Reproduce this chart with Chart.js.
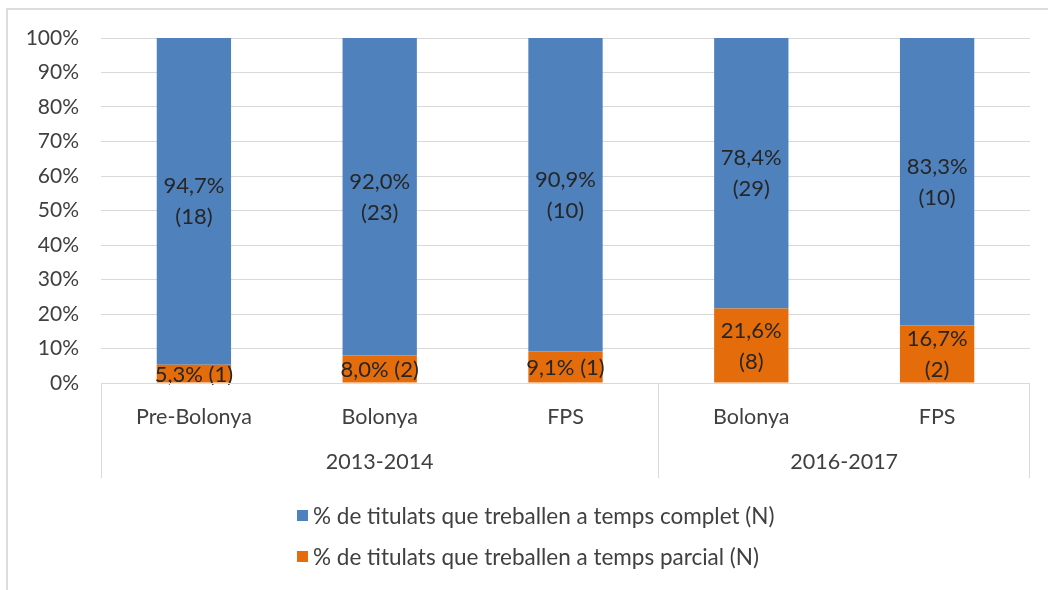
<!DOCTYPE html>
<html>
<head>
<meta charset="utf-8">
<script src="https://cdn.jsdelivr.net/npm/chart.js@4"></script>
<style>
  body { margin:0; background:#fff; }
  #wrap { position:relative; width:1048px; height:590px; }
  .llegenda { position:absolute; left:297px; top:0; font-family:Lato, sans-serif; font-size:22.5px; color:#404040; }
  .llegenda .fila { position:absolute; left:0; white-space:nowrap; display:flex; align-items:center; height:26px; }
  .llegenda .quadre { width:11px; height:11px; margin-right:5px; display:inline-block; }
</style>
</head>
<body>
<div id="wrap">
  <canvas id="grafic" width="1048" height="590"></canvas>
  <div class="llegenda" id="llegenda"></div>
</div>
<script>
const categories = ['Pre-Bolonya', 'Bolonya', 'FPS', 'Bolonya', 'FPS'];
const cursos     = ['2013-2014', '2013-2014', '2013-2014', '2016-2017', '2016-2017'];

const completPct = [94.7, 92.0, 90.9, 78.4, 83.3];
const completN   = [18, 23, 10, 29, 10];
const parcialPct = [5.3, 8.0, 9.1, 21.6, 16.7];
const parcialN   = [1, 2, 1, 8, 2];

// ordre de la llegenda; el parcial va a baix de la pila
const series = [
  {nom:'% de titulats que treballen a temps complet (N)', pct:completPct, n:completN, color:'#4F81BD', ordre:2},
  {nom:'% de titulats que treballen a temps parcial (N)', pct:parcialPct, n:parcialN, color:'#E46C0A', ordre:1},
];

const FONT = 'Lato, sans-serif';
const TXT = '#404040';
const GRID = '#d9d9d9';

const fmt = v => v.toFixed(1).replace('.', ',') + '%';

// etiquetes dins les barres
const etiquetes = {
  id: 'etiquetes',
  afterDatasetsDraw(chart) {
    const ctx = chart.ctx;
    ctx.save();
    ctx.font = '22px ' + FONT;
    ctx.fillStyle = '#262626';
    ctx.textAlign = 'center';
    ctx.textBaseline = 'middle';
    chart.data.datasets.forEach((ds, di) => {
      const meta = chart.getDatasetMeta(di);
      meta.data.forEach((bar, i) => {
        const c = bar.getCenterPoint();
        const h = Math.abs(bar.base - bar.y);
        const a = fmt(series[di].pct[i]), b = '(' + series[di].n[i] + ')';
        if (h > 50) {
          ctx.fillText(a, c.x, c.y - 15);
          ctx.fillText(b, c.x, c.y + 16);
        } else {
          ctx.fillText(a + ' ' + b, c.x, c.y + 1);
        }
      });
    });
    ctx.restore();
  }
};

// eix de categories en dos nivells + vora del gràfic
const eixGrups = {
  id: 'eixGrups',
  beforeDraw(chart) {
    const ctx = chart.ctx;
    ctx.save();
    ctx.strokeStyle = '#dcdcdc';
    ctx.lineWidth = 2;
    ctx.beginPath();
    ctx.moveTo(7, 590); ctx.lineTo(7, 9); ctx.lineTo(1048, 9);
    ctx.stroke();
    ctx.restore();
  },
  afterDraw(chart) {
    const ctx = chart.ctx, x = chart.scales.x, area = chart.chartArea;
    const baix = area.bottom + 95;
    const amplada = x.getPixelForValue(1) - x.getPixelForValue(0);
    ctx.save();
    ctx.strokeStyle = GRID;
    ctx.lineWidth = 1;
    ctx.beginPath();
    ctx.moveTo(area.left, area.bottom + 0.5); ctx.lineTo(area.right, area.bottom + 0.5);
    ctx.moveTo(area.left + 0.5, area.bottom); ctx.lineTo(area.left + 0.5, baix);
    ctx.moveTo(area.right - 0.5, area.bottom); ctx.lineTo(area.right - 0.5, baix);
    let inici = 0;
    for (let i = 1; i <= cursos.length; i++) {
      if (i === cursos.length || cursos[i] !== cursos[inici]) {
        const x0 = x.getPixelForValue(inici) - amplada / 2;
        const x1 = x.getPixelForValue(i - 1) + amplada / 2;
        if (i < cursos.length) {
          ctx.moveTo(Math.round(x1) + 0.5, area.bottom); ctx.lineTo(Math.round(x1) + 0.5, baix);
        }
        ctx.fillStyle = TXT;
        ctx.font = '21.5px ' + FONT;
        ctx.textAlign = 'center';
        ctx.textBaseline = 'middle';
        ctx.fillText(cursos[inici], (x0 + x1) / 2, area.bottom + 79);
        inici = i;
      }
    }
    ctx.stroke();
    ctx.restore();
  }
};

new Chart(document.getElementById('grafic'), {
  type: 'bar',
  data: {
    labels: categories,
    datasets: series.map(s => ({
      label: s.nom,
      data: s.pct,
      backgroundColor: s.color,
      order: s.ordre,
      barPercentage: 0.4,
      categoryPercentage: 1,
    }))
  },
  options: {
    responsive: false,
    animation: false,
    events: [],
    layout: { padding: { top: 38, right: 18, left: 0, bottom: 0 } },
    plugins: { legend: { display: false }, tooltip: { enabled: false } },
    scales: {
      x: {
        stacked: true,
        grid: { display: false, drawTicks: false },
        border: { display: false },
        ticks: { color: TXT, font: { family: FONT, size: 21.5 }, padding: 21 },
        afterFit: s => { s.height = 207; }
      },
      y: {
        stacked: true,
        min: 0, max: 100,
        grid: { color: GRID, drawTicks: false },
        border: { display: false },
        ticks: { stepSize: 10, color: TXT, font: { family: FONT, size: 21 }, padding: 22, callback: v => v + '%' },
        afterFit: s => { s.width = 101; }
      }
    }
  },
  plugins: [etiquetes, eixGrups]
});

const ll = document.getElementById('llegenda');
series.forEach((s, i) => {
  const f = document.createElement('div');
  f.className = 'fila';
  f.style.top = (502 + i * 41) + 'px';
  f.innerHTML = `<span class="quadre" style="background:${s.color}"></span>${s.nom}`;
  ll.appendChild(f);
});
</script>
</body>
</html>
